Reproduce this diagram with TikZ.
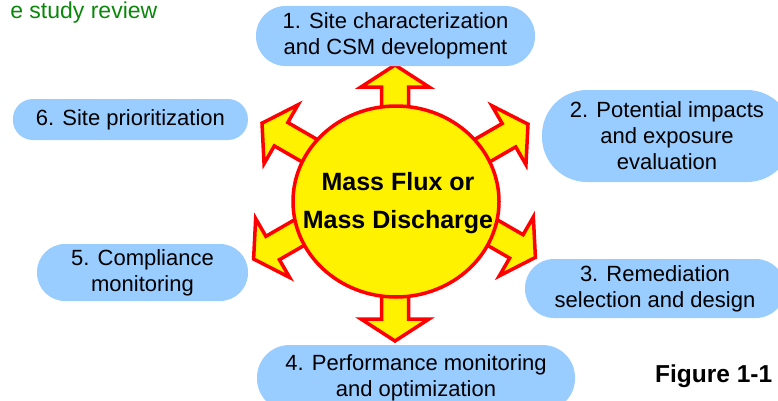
\documentclass[tikz,border=0pt]{standalone}
\usepackage{fontspec}
\setmainfont{Liberation Sans}
\usetikzlibrary{shapes.geometric}
\definecolor{boxblue}{RGB}{153,204,255}
\definecolor{figgreen}{RGB}{10,135,10}
\newcommand\flowarrow[3]{%
  \draw[burst, shift={(#1,#2)}, rotate=#3]
    (0,0) -- (-22,34) -- (-22,13.5) -- (-95,13.5) -- (-95,-13.5) -- (-22,-13.5) -- (-22,-34) -- cycle;}
\begin{document}
\begin{tikzpicture}[x=1pt,y=1pt,
  stage/.style={fill=boxblue, draw=none, align=center, inner sep=0pt,
    font=\fontsize{22}{26}\selectfont},
  burst/.style={fill=yellow, draw=red, line width=3.5pt, line join=miter},
  hub/.style={ellipse, fill=yellow, draw=red, line width=3.5pt,
    minimum width=206pt, minimum height=191pt, inner sep=0pt},
  hubtext/.style={font=\fontsize{25}{30}\bfseries\selectfont, inner sep=0pt}]
\useasboundingbox (0,0) rectangle (778,400);

% arrows (drawn below the hub)
\flowarrow{395}{335}{90}
\flowarrow{395}{59}{270}
\flowarrow{262}{276.8}{150}
\flowarrow{528}{275.8}{30}
\flowarrow{253.6}{141}{210}
\flowarrow{535.4}{142.6}{330}

% hub
\node[hub] (hub) at (396,198.5) {};
\node[hubtext, anchor=base] (hubA) at (398,210) {Mass Flux or};
\node[hubtext, anchor=base] (hubB) at (398,172) {Mass Discharge};

% stage boxes
\node[stage, minimum width=279pt, minimum height=60pt, rounded corners=29.5pt] (s1) at (395.5,364)
  {1. Site characterization\\and CSM development};
\node[stage, minimum width=250pt, minimum height=92pt, rounded corners=45pt] (s2) at (667,264)
  {2. Potential impacts\\and exposure\\evaluation};
\node[stage, minimum width=260pt, minimum height=59pt, rounded corners=29pt] (s3) at (655,111.5)
  {3. Remediation\\selection and design};
\node[stage, minimum width=318pt, minimum height=66pt, rounded corners=32.5pt] (s4) at (416,22)
  {4. Performance monitoring\\and optimization};
\node[stage, minimum width=211pt, minimum height=57pt, rounded corners=28pt] (s5) at (142.5,127.5)
  {5. Compliance\\monitoring};
\node[stage, minimum width=235pt, minimum height=41pt, rounded corners=20pt] (s6) at (130.4,280.5)
  {6. Site prioritization};

% other labels
\node[anchor=base west, inner sep=0pt, font=\fontsize{24.5}{28}\bfseries\selectfont] (fig) at (655,18) {Figure 1-1};
\node[anchor=base east, inner sep=0pt, text=figgreen, font=\fontsize{23}{27}\selectfont] (hdr) at (157.5,381.5) {e study review};
\end{tikzpicture}
\end{document}
